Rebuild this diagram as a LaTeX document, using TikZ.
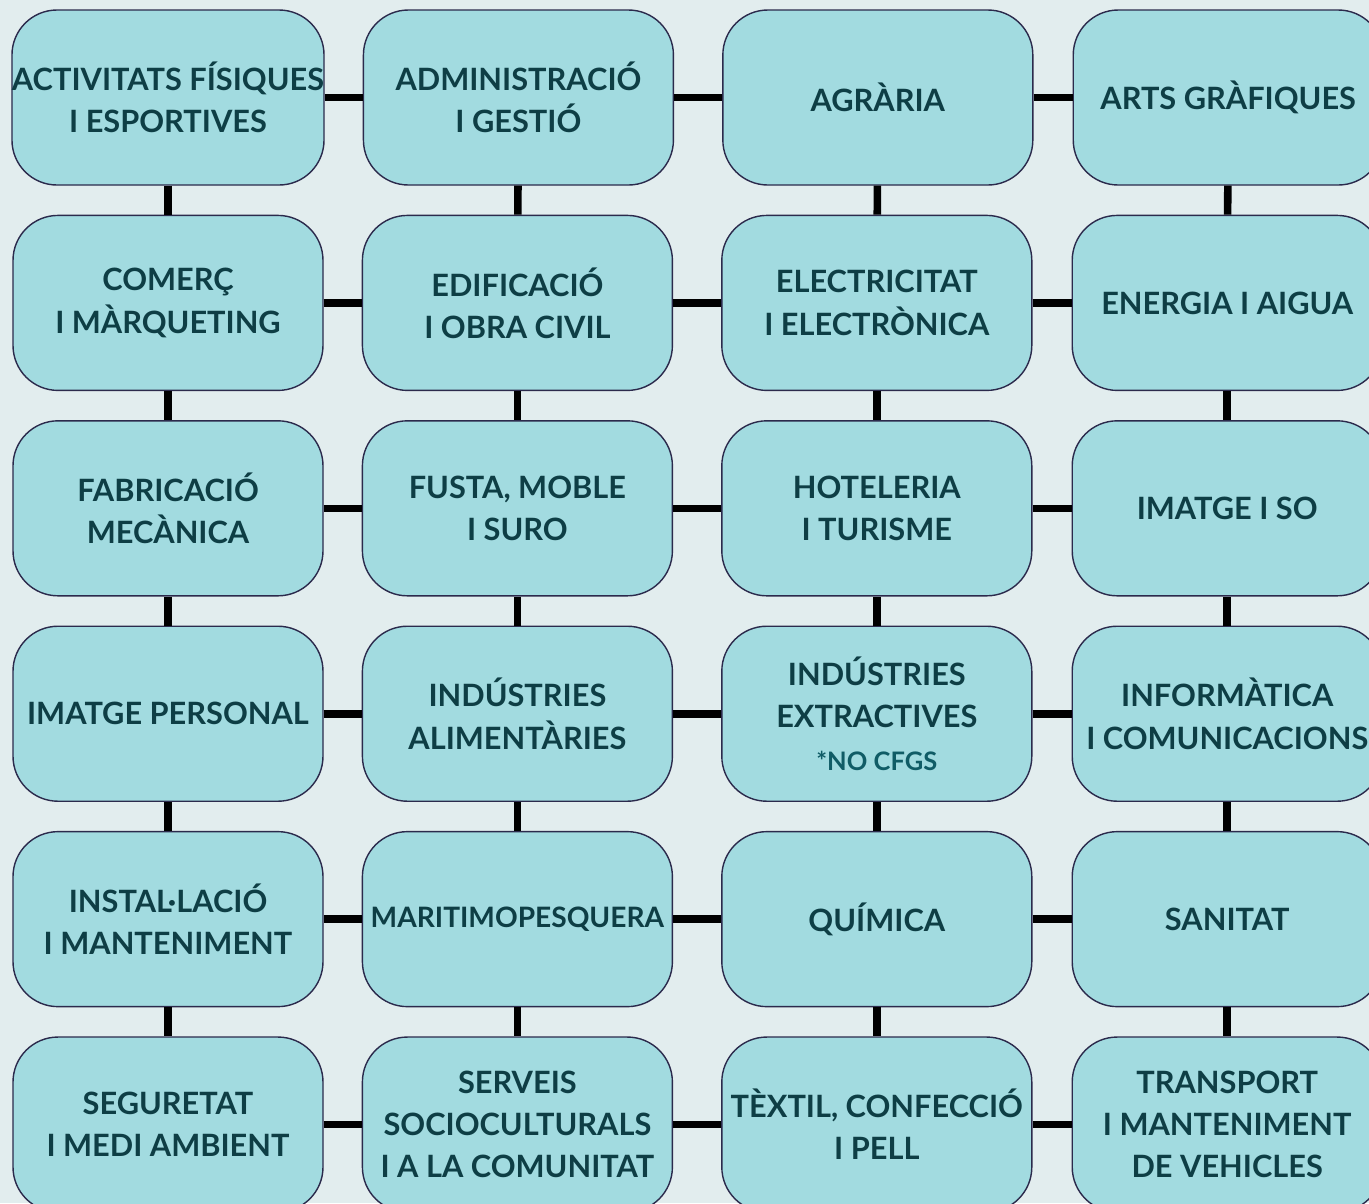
\documentclass[tikz,border=0pt]{standalone}
\usepackage{fontspec}
\setmainfont{Lato}
\usepackage{xcolor}
\usepackage{tikz}
\usetikzlibrary{positioning}
\definecolor{bgcol}{HTML}{E2EDEE}
\definecolor{boxfill}{HTML}{A2DBE0}
\definecolor{boxline}{HTML}{2B2A4C}
\definecolor{boxtext}{HTML}{0E3E45}
\definecolor{notetext}{HTML}{105C66}
\tikzset{
    family/.style = {rectangle, rounded corners=0.9cm, minimum width=6.2cm, minimum height=3.5cm, inner xsep=0pt, align=center, draw=boxline, line width=0.8pt, fill=boxfill, text=boxtext, font=\fontsize{17.5}{24}\selectfont\bfseries},
    link/.style = {line width=4.3pt, black}
}

\begin{document}
\begin{tikzpicture}[node distance=0.58cm and 0.76cm]
\fill [bgcol] (0,0) rectangle (27.38,-24.06);
\useasboundingbox (0,0) rectangle (27.38,-24.06);
\clip (0,0) rectangle (27.38,-24.06);

% first column
\node (fisiques) [family] at (3.36,-1.95) {ACTIVITATS FÍSIQUES\\I ESPORTIVES};
\node (comerc) [family, below=of fisiques] {COMERÇ\\I MÀRQUETING};
\node (fabricacio) [family, below=of comerc] {FABRICACIÓ\\MECÀNICA};
\node (personal) [family, below=of fabricacio] {IMATGE PERSONAL};
\node (installacio) [family, below=of personal] {INSTAL·LACIÓ\\I MANTENIMENT};
\node (seguretat) [family, below=of installacio] {SEGURETAT\\I MEDI AMBIENT};

% second column
\node (admin) [family, right=of fisiques] {ADMINISTRACIÓ\\I GESTIÓ};
\node (edificacio) [family, right=of comerc] {EDIFICACIÓ\\I OBRA CIVIL};
\node (fusta) [family, right=of fabricacio] {FUSTA, MOBLE\\I SURO};
\node (alimentaries) [family, right=of personal] {INDÚSTRIES\\ALIMENTÀRIES};
\node (maritim) [family, right=of installacio, font=\fontsize{16}{24}\selectfont\bfseries] {MARITIMOPESQUERA};
\node (serveis) [family, right=of seguretat] {SERVEIS\\SOCIOCULTURALS\\I A LA COMUNITAT};

% third column
\node (agraria) [family, right=0.96cm of admin] {AGRÀRIA};
\node (electricitat) [family, right=0.96cm of edificacio] {ELECTRICITAT\\I ELECTRÒNICA};
\node (hoteleria) [family, right=0.96cm of fusta] {HOTELERIA\\I TURISME};
\node (extractives) [family, right=0.96cm of alimentaries] {INDÚSTRIES\\EXTRACTIVES\\{\color{notetext}\fontsize{14.5}{20}\selectfont *NO CFGS}};
\node (quimica) [family, right=0.96cm of maritim] {QUÍMICA};
\node (textil) [family, right=0.96cm of serveis] {TÈXTIL, CONFECCIÓ\\I PELL};

% fourth column
\node (arts) [family, right=0.78cm of agraria] {ARTS GRÀFIQUES};
\node (energia) [family, right=0.78cm of electricitat] {ENERGIA I AIGUA};
\node (imatgeso) [family, right=0.78cm of hoteleria] {IMATGE I SO};
\node (informatica) [family, right=0.78cm of extractives] {INFORMÀTICA\\I COMUNICACIONS};
\node (sanitat) [family, right=0.78cm of quimica] {SANITAT};
\node (transport) [family, right=0.78cm of textil] {TRANSPORT\\I MANTENIMENT\\DE VEHICLES};

% rows
\draw [link] (fisiques) -- (admin);
\draw [link] (admin) -- (agraria);
\draw [link] (agraria) -- (arts);
\draw [link] (comerc) -- (edificacio);
\draw [link] (edificacio) -- (electricitat);
\draw [link] (electricitat) -- (energia);
\draw [link] (fabricacio) -- (fusta);
\draw [link] (fusta) -- (hoteleria);
\draw [link] (hoteleria) -- (imatgeso);
\draw [link] (personal) -- (alimentaries);
\draw [link] (alimentaries) -- (extractives);
\draw [link] (extractives) -- (informatica);
\draw [link] (installacio) -- (maritim);
\draw [link] (maritim) -- (quimica);
\draw [link] (quimica) -- (sanitat);
\draw [link] (seguretat) -- (serveis);
\draw [link] (serveis) -- (textil);
\draw [link] (textil) -- (transport);

% columns
\draw [link] (fisiques) -- (comerc);
\draw [link] (comerc) -- (fabricacio);
\draw [link] (fabricacio) -- (personal);
\draw [link] (personal) -- (installacio);
\draw [link] (installacio) -- (seguretat);
\draw [link] (admin) -- (edificacio);
\draw [link] (edificacio) -- (fusta);
\draw [link] (fusta) -- (alimentaries);
\draw [link] (alimentaries) -- (maritim);
\draw [link] (maritim) -- (serveis);
\draw [link] (agraria) -- (electricitat);
\draw [link] (electricitat) -- (hoteleria);
\draw [link] (hoteleria) -- (extractives);
\draw [link] (extractives) -- (quimica);
\draw [link] (quimica) -- (textil);
\draw [link] (arts) -- (energia);
\draw [link] (energia) -- (imatgeso);
\draw [link] (imatgeso) -- (informatica);
\draw [link] (informatica) -- (sanitat);
\draw [link] (sanitat) -- (transport);
\end{tikzpicture}
\end{document}
